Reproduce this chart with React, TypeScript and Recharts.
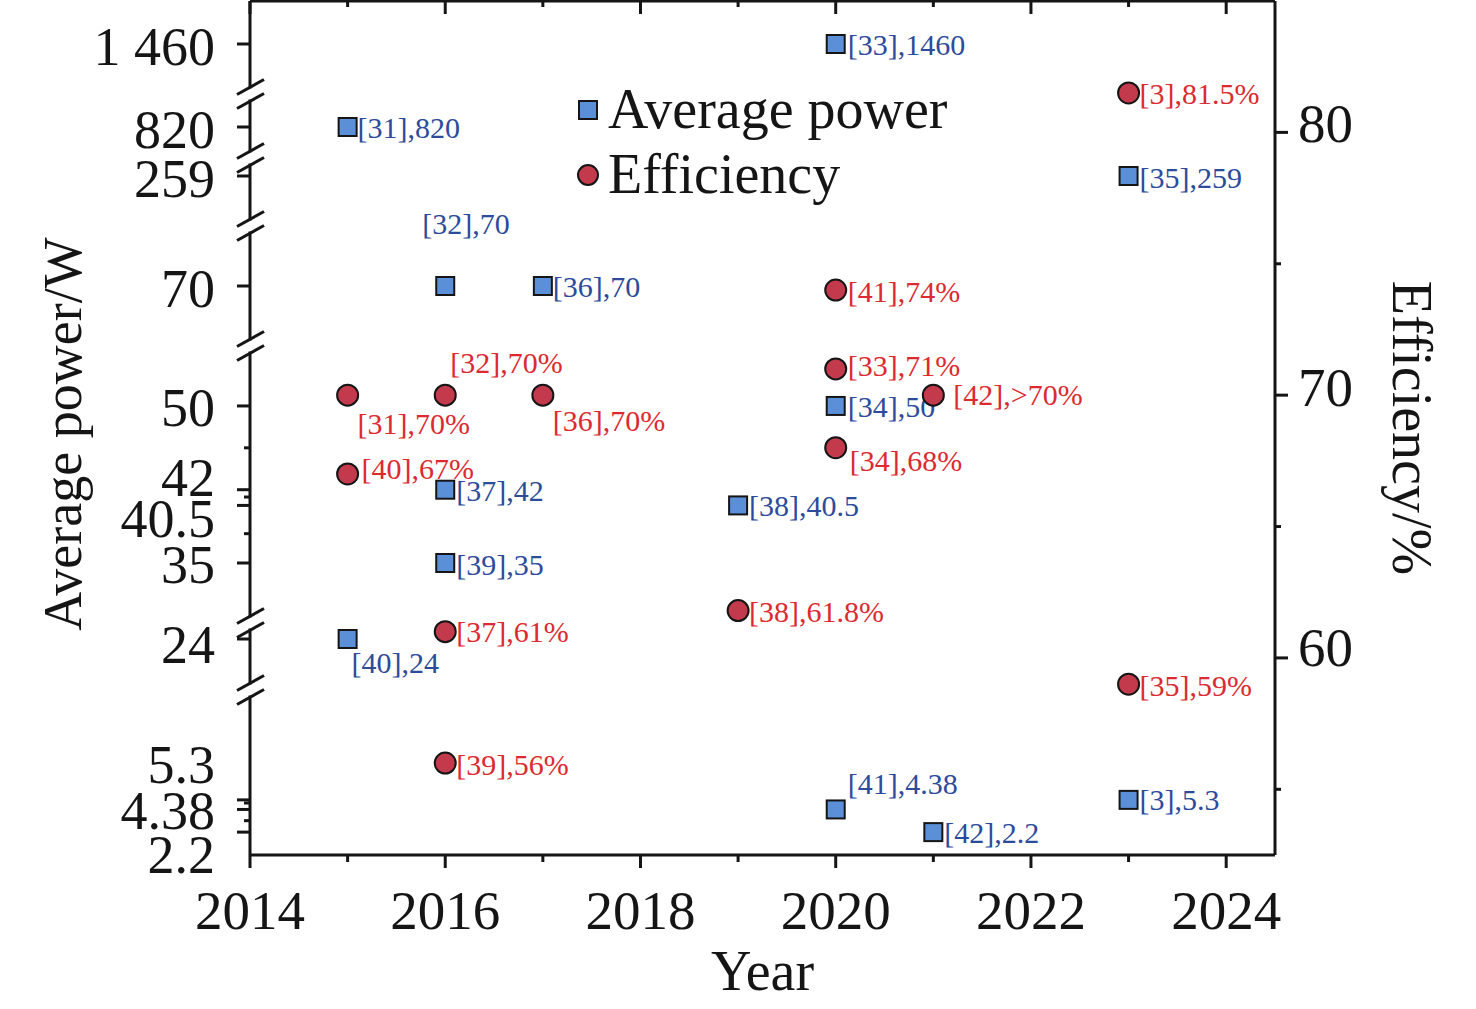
import React from 'react'
import { ScatterChart, Scatter, XAxis, YAxis, Legend, Label } from 'recharts'

const FONT = '"Liberation Serif", "Times New Roman", serif'
const INK = '#151515'
const BLUE_FILL = '#5b8fd8'
const RED_FILL = '#c23a4c'
const BLUE_TEXT = '#2d4b9b'
const RED_TEXT = '#dc2a30'

// Average power (W)
const powerYears = [2015, 2015, 2016, 2016, 2016, 2017, 2019, 2020, 2020, 2020, 2021, 2023, 2023]
const powerValues = [820, 24, 70, 42, 35, 70, 40.5, 1460, 50, 4.38, 2.2, 259, 5.3]
const powerRefs = ['[31]', '[40]', '[32]', '[37]', '[39]', '[36]', '[38]', '[33]', '[34]', '[41]', '[42]', '[35]', '[3]']
const powerText = ['820', '24', '70', '42', '35', '70', '40.5', '1460', '50', '4.38', '2.2', '259', '5.3']

// Efficiency (%)
const effYears = [2015, 2015, 2016, 2016, 2016, 2017, 2019, 2020, 2020, 2020, 2021, 2023, 2023]
const effValues = [70, 67, 70, 61, 56, 70, 61.8, 74, 71, 68, 70, 81.5, 59]
const effRefs = ['[31]', '[40]', '[32]', '[37]', '[39]', '[36]', '[38]', '[41]', '[33]', '[34]', '[42]', '[3]', '[35]']
const effText = ['70%', '67%', '70%', '61%', '56%', '70%', '61.8%', '74%', '71%', '68%', '>70%', '81.5%', '59%']

// where each annotation sits relative to its marker
const powerLabelOffset = [[10, 0], [4, 23], [-23, -63], [11, 1], [11, 1], [10, 0], [11, 0], [12, 0], [12, 1], [12, -26], [11, 0], [11, 1], [11, 0]]
const effLabelOffset = [[10, 28], [14, -5], [5, -33], [11, 0], [11, 1], [10, 25], [11, 1], [12, 1], [12, -3], [14, 13], [20, -1], [11, 1], [11, 1]]

// axis ticks
const yearTicks = [2014, 2015, 2016, 2017, 2018, 2019, 2020, 2021, 2022, 2023, 2024]
const effTicks = [55, 60, 65, 70, 75, 80]
const effLabelShift: Record<number, number> = { 60: -10, 70: -8, 80: -9 }
const leftMajor = [1460, 820, 259, 70, 50, 42, 40.5, 35, 24, 5.3, 4.38, 2.2]
const leftMajorText = ['1 460', '820', '259', '70', '50', '42', '40.5', '35', '24', '5.3', '4.38', '2.2']
const leftLabelShift = [2.5, 3, 3, 2.5, 2, -12, 14, 2, 6, -35, 2, 23]
const leftMinor = [46, 41.3, 37.8, 5, 3.3]

// broken power axis: each piece maps a value range onto its own stretch of the axis
const powerSegments = [
  { lo: 0, hi: 15, v0: 0, p0: 0, k: 10.4 },
  { lo: 15, hi: 30, v0: 24, p0: 216, k: 10 },
  { lo: 30, hi: 60, v0: 35, p0: 292, k: 10.47 },
  { lo: 60, hi: 150, v0: 70, p0: 569, k: 10 },
  { lo: 150, hi: 500, v0: 259, p0: 679, k: 1 },
  { lo: 500, hi: 1000, v0: 820, p0: 728, k: 1 },
  { lo: 1000, hi: 3000, v0: 1460, p0: 811, k: 1 },
]
const breakPositions = [165, 232, 509, 629, 697, 761]
const POWER_AXIS_MAX = 854

function powerToPos(v: number) {
  const s = powerSegments.find((seg) => v >= seg.lo && v < seg.hi) || powerSegments[powerSegments.length - 1]
  return s.p0 + (v - s.v0) * s.k
}

type LeftTickInfo = { pos: number; kind: 'major' | 'minor' | 'break'; text?: string; shift?: number }
const leftTicks: LeftTickInfo[] = [
  ...leftMajor.map((v, i) => ({ pos: powerToPos(v), kind: 'major' as const, text: leftMajorText[i], shift: leftLabelShift[i] })),
  ...leftMinor.map((v) => ({ pos: powerToPos(v), kind: 'minor' as const })),
  ...breakPositions.map((p) => ({ pos: p, kind: 'break' as const })),
]

const powerData = powerYears.map((x, i) => ({
  x,
  y: powerToPos(powerValues[i]),
  label: `${powerRefs[i]},${powerText[i]}`,
  dx: powerLabelOffset[i][0],
  dy: powerLabelOffset[i][1],
}))

const effData = effYears.map((x, i) => ({
  x,
  y: effValues[i],
  label: `${effRefs[i]},${effText[i]}`,
  dx: effLabelOffset[i][0],
  dy: effLabelOffset[i][1],
}))

const tickFont = { fontFamily: FONT, fontSize: 54, fill: INK }

const BottomTick = (props: any) => {
  const { x, y, payload } = props
  const major = payload.value % 2 === 0
  return (
    <g>
      <line x1={x} x2={x} y1={y} y2={y + (major ? 13 : 7)} stroke={INK} strokeWidth={3} />
      {major && (
        <text x={x} y={y + 55} textAnchor="middle" dominantBaseline="central" {...tickFont} fontSize={55}>
          {payload.value}
        </text>
      )}
    </g>
  )
}

const TopTick = (props: any) => {
  const { x, y, payload } = props
  const major = payload.value % 2 === 0
  return <line x1={x} x2={x} y1={y} y2={y + (major ? 13 : 6)} stroke={INK} strokeWidth={3} />
}

const RightTick = (props: any) => {
  const { x, y, payload } = props
  const major = payload.value % 10 === 0
  return (
    <g>
      <line x1={x} x2={x + (major ? 13 : 6)} y1={y} y2={y} stroke={INK} strokeWidth={3} />
      {major && (
        <text x={x + 23} y={y + (effLabelShift[payload.value] || 0)} textAnchor="start" dominantBaseline="central" {...tickFont} fontSize={55}>
          {payload.value}
        </text>
      )}
    </g>
  )
}

const LeftTick = (props: any) => {
  const { x, y, payload } = props
  const t = leftTicks.find((d) => Math.abs(d.pos - payload.value) < 0.01)
  if (!t) return null
  if (t.kind === 'break') {
    return (
      <g>
        <rect x={x - 3} y={y - 5.5} width={6} height={11} fill="#fff" />
        <line x1={x - 13} y1={y + 0.5} x2={x + 14} y2={y - 14.5} stroke={INK} strokeWidth={3} />
        <line x1={x - 13} y1={y + 14.5} x2={x + 14} y2={y - 0.5} stroke={INK} strokeWidth={3} />
      </g>
    )
  }
  if (t.kind === 'minor') {
    return <line x1={x - 6} x2={x} y1={y} y2={y} stroke={INK} strokeWidth={3} />
  }
  return (
    <g>
      <line x1={x - 13} x2={x} y1={y} y2={y} stroke={INK} strokeWidth={3} />
      <text x={x - 35} y={y + (t.shift || 0)} textAnchor="end" dominantBaseline="central" {...tickFont}>
        {t.text}
      </text>
    </g>
  )
}

const PowerMark = (props: any) => {
  const { cx, cy, payload } = props
  return (
    <g>
      <rect x={cx - 9} y={cy - 9} width={18} height={18} fill={BLUE_FILL} stroke={INK} strokeWidth={2} />
      <text x={cx + payload.dx} y={cy + payload.dy} dominantBaseline="central" fontFamily={FONT} fontSize={30} fill={BLUE_TEXT}>
        {payload.label}
      </text>
    </g>
  )
}

const EffMark = (props: any) => {
  const { cx, cy, payload } = props
  return (
    <g>
      <circle cx={cx} cy={cy} r={10.5} fill={RED_FILL} stroke={INK} strokeWidth={2} />
      <text x={cx + payload.dx} y={cy + payload.dy} dominantBaseline="central" fontFamily={FONT} fontSize={30} fill={RED_TEXT}>
        {payload.label}
      </text>
    </g>
  )
}

const LegendBox = () => (
  <div style={{ fontFamily: FONT, fontSize: 56, color: INK, lineHeight: '65px' }}>
    <div style={{ display: 'flex', alignItems: 'center', height: 65 }}>
      <svg width={22} height={22} style={{ marginRight: 9 }}>
        <rect x={2} y={2} width={18} height={18} fill={BLUE_FILL} stroke={INK} strokeWidth={2} />
      </svg>
      <span>Average power</span>
    </div>
    <div style={{ display: 'flex', alignItems: 'center', height: 65 }}>
      <svg width={22} height={22} style={{ marginRight: 9 }}>
        <circle cx={11} cy={11} r={10} fill={RED_FILL} stroke={INK} strokeWidth={2} />
      </svg>
      <span>Efficiency</span>
    </div>
  </div>
)

const axisLine = { stroke: INK, strokeWidth: 3 }

export default function App() {
  return (
    <div style={{ position: 'absolute', left: 0, top: 0, width: 1476, height: 1009, background: '#fff' }}>
      <ScatterChart width={1476} height={1009} margin={{ top: 0, right: 0, bottom: 0, left: 0 }}>
        <XAxis
          xAxisId="top"
          orientation="top"
          type="number"
          dataKey="x"
          domain={[2014, 2024.5]}
          allowDataOverflow
          ticks={yearTicks}
          interval={0}
          height={1}
          tickSize={0}
          tickMargin={0}
          tickLine={false}
          axisLine={axisLine}
          tick={TopTick}
        />
        <XAxis
          xAxisId="bottom"
          orientation="bottom"
          type="number"
          dataKey="x"
          domain={[2014, 2024.5]}
          allowDataOverflow
          ticks={yearTicks}
          interval={0}
          height={154}
          tickSize={0}
          tickMargin={0}
          tickLine={false}
          axisLine={axisLine}
          tick={BottomTick}
        >
          <Label
            content={(p: any) => {
              const vb = p.viewBox || { x: 250, y: 855, width: 1025, height: 154 }
              return (
                <text x={vb.x + vb.width / 2} y={vb.y + 135} textAnchor="middle" fontFamily={FONT} fontSize={56} fill={INK}>
                  Year
                </text>
              )
            }}
          />
        </XAxis>
        <YAxis
          yAxisId="left"
          orientation="left"
          type="number"
          dataKey="y"
          domain={[0, POWER_AXIS_MAX]}
          allowDataOverflow
          ticks={leftTicks.map((t) => t.pos)}
          interval={0}
          width={250}
          tickSize={0}
          tickMargin={0}
          tickLine={false}
          axisLine={axisLine}
          tick={LeftTick}
        >
          <Label
            content={(p: any) => {
              const vb = p.viewBox || { x: 0, y: 1, width: 250, height: 854 }
              const cx = vb.x + 81
              const cy = vb.y + vb.height / 2 + 6
              return (
                <text x={cx} y={cy} transform={`rotate(-90 ${cx} ${cy})`} textAnchor="middle" fontFamily={FONT} fontSize={54} fill={INK}>
                  Average power/W
                </text>
              )
            }}
          />
        </YAxis>
        <YAxis
          yAxisId="right"
          orientation="right"
          type="number"
          dataKey="y"
          domain={[52.5, 85]}
          allowDataOverflow
          ticks={effTicks}
          interval={0}
          width={201}
          tickSize={0}
          tickMargin={0}
          tickLine={false}
          axisLine={axisLine}
          tick={RightTick}
        >
          <Label
            content={(p: any) => {
              const vb = p.viewBox || { x: 1275, y: 1, width: 201, height: 854 }
              const cx = vb.x + 118
              const cy = vb.y + vb.height / 2
              return (
                <text x={cx} y={cy} transform={`rotate(90 ${cx} ${cy})`} textAnchor="middle" fontFamily={FONT} fontSize={56} fill={INK}>
                  Efficiency/%
                </text>
              )
            }}
          />
        </YAxis>
        <Legend
          layout="vertical"
          align="center"
          verticalAlign="middle"
          wrapperStyle={{ position: 'absolute', left: 577, top: 77, width: 440 }}
          content={LegendBox}
        />
        <Scatter name="Average power" data={powerData} xAxisId="bottom" yAxisId="left" shape={PowerMark} isAnimationActive={false} />
        <Scatter name="Efficiency" data={effData} xAxisId="bottom" yAxisId="right" shape={EffMark} isAnimationActive={false} />
      </ScatterChart>
    </div>
  )
}
